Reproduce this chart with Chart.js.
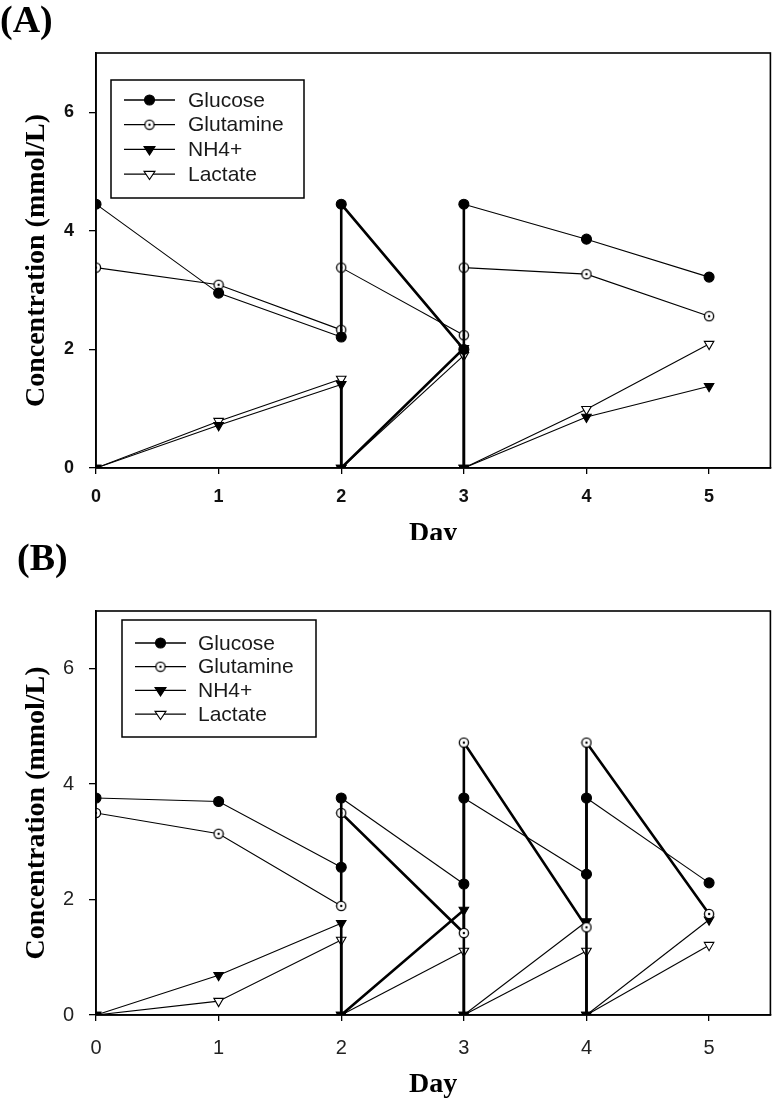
<!DOCTYPE html>
<html><head><meta charset="utf-8">
<script src="https://cdn.jsdelivr.net/npm/chart.js@4/dist/chart.umd.min.js"></script>
<style>
html,body{margin:0;padding:0;background:#fff;}
body{width:777px;height:1102px;position:relative;overflow:hidden;}
#pa{position:absolute;left:0;top:0;width:777px;height:540px;overflow:hidden;}
#pb{position:absolute;left:0;top:540px;width:777px;height:562px;background:#fff;}
.lbl{position:absolute;font-family:"Liberation Serif","Times New Roman",serif;font-weight:bold;font-size:38px;line-height:38px;color:#000;}
canvas{position:absolute;left:0;top:0;}
</style></head><body>
<div id="pa"><canvas id="ca" width="777" height="551"></canvas><div class="lbl" style="left:0;top:0">(A)</div></div>
<div id="pb"><canvas id="cb" width="777" height="562"></canvas><div class="lbl" style="left:17px;top:-2px">(B)</div></div>
<script>
// ---------- data ----------
const seriesNames = ['Glucose', 'Glutamine', 'NH4+', 'Lactate'];
const xTickValues = [0, 1, 2, 3, 4, 5];
const yTickValues = [0, 2, 4, 6];
const xAxisTitle = 'Day';
const yAxisTitle = 'Concentration (mmol/L)';

// Panel A (feeding at day 2 and day 3: repeated day = value before / after feed)
const daysA      = [0, 1, 2, 2, 3, 3, 4, 5];
const glucoseA   = [4.45, 2.95, 2.21, 4.45, 2.00, 4.45, 3.86, 3.22];
const glutamineA = [3.38, 3.09, 2.33, 3.38, 2.24, 3.38, 3.27, 2.56];
const nh4A       = [0, 0.72, 1.41, 0, 2.02, 0, 0.86, 1.38];
const lactateA   = [0, 0.79, 1.50, 0, 1.90, 0, 0.99, 2.09];

// Panel B (feeding at day 2, 3 and 4)
const daysB      = [0, 1, 2, 2, 3, 3, 4, 4, 5];
const glucoseB   = [3.76, 3.70, 2.56, 3.76, 2.27, 3.76, 2.44, 3.76, 2.29];
const glutamineB = [3.50, 3.14, 1.89, 3.50, 1.42, 4.72, 1.52, 4.72, 1.75];
const nh4B       = [0, 0.69, 1.59, 0, 1.82, 0, 1.62, 0, 1.65];
const lactateB   = [0, 0.24, 1.30, 0, 1.11, 0, 1.11, 0, 1.21];

// segments (by start index) drawn with a heavy line
const heavyA = {'Glucose': [3], 'NH4+': [3]};
const heavyB = {'Glutamine': [3, 5, 7], 'NH4+': [3]};

// ---------- styles ----------
function makeOpenDot() {
  const c = document.createElement('canvas');
  c.width = 12; c.height = 12;
  const g = c.getContext('2d');
  g.beginPath(); g.arc(6, 6, 4.6, 0, Math.PI * 2);
  g.fillStyle = '#fff'; g.fill();
  g.lineWidth = 1.3; g.strokeStyle = '#000'; g.stroke();
  g.beginPath(); g.arc(6, 6, 1.2, 0, Math.PI * 2);
  g.fillStyle = '#000'; g.fill();
  return c;
}
const openDot = makeOpenDot();
const markerStyles = {
  'Glucose':   {pointStyle: 'circle', pointRadius: 5, pointBackgroundColor: '#000', pointRotation: 0},
  'Glutamine': {pointStyle: openDot, pointRadius: 5, pointBackgroundColor: '#fff', pointRotation: 0},
  'NH4+':      {pointStyle: 'triangle', pointRadius: 5.5, pointBackgroundColor: '#000', pointRotation: 180},
  'Lactate':   {pointStyle: 'triangle', pointRadius: 5.5, pointBackgroundColor: '#fff', pointRotation: 180}
};

function buildDatasets(days, lists, heavy) {
  return seriesNames.map((name, k) => {
    const heavyIdx = heavy[name] || [];
    return Object.assign({
      label: name,
      data: days.map((d, i) => ({x: d, y: lists[k][i]})),
      borderColor: '#000',
      borderWidth: 1.1,
      pointBorderColor: '#000',
      pointBorderWidth: 1.1,
      tension: 0,
      segment: {
        borderWidth: ctx => (ctx.p0.parsed.x === ctx.p1.parsed.x || heavyIdx.includes(ctx.p0DataIndex)) ? 2.6 : 1.1
      }
    }, markerStyles[name]);
  });
}

function drawMarker(ctx, st, x, y) {
  ctx.save();
  if (st.pointStyle instanceof HTMLCanvasElement) {
    ctx.drawImage(st.pointStyle, x - st.pointStyle.width / 2, y - st.pointStyle.height / 2);
  } else if (st.pointStyle === 'circle') {
    ctx.beginPath(); ctx.arc(x, y, st.pointRadius, 0, Math.PI * 2);
    ctx.fillStyle = st.pointBackgroundColor; ctx.fill();
    ctx.lineWidth = 1.1; ctx.strokeStyle = '#000'; ctx.stroke();
  } else {
    const r = st.pointRadius;
    ctx.beginPath();
    ctx.moveTo(x - r * 0.866 * 1.15, y - r * 0.5);
    ctx.lineTo(x + r * 0.866 * 1.15, y - r * 0.5);
    ctx.lineTo(x, y + r);
    ctx.closePath();
    ctx.fillStyle = st.pointBackgroundColor; ctx.fill();
    ctx.lineWidth = 1.1; ctx.strokeStyle = '#000'; ctx.stroke();
  }
  ctx.restore();
}

const boxLegend = {
  id: 'boxLegend',
  afterDatasetsDraw(chart, args, o) {
    const {ctx, chartArea: a} = chart;
    const x0 = a.left + o.dx, y0 = a.top + o.dy;
    ctx.save();
    ctx.fillStyle = '#fff';
    ctx.fillRect(x0, y0, o.w, o.h);
    ctx.lineWidth = 1.5; ctx.strokeStyle = '#000';
    ctx.strokeRect(x0, y0, o.w, o.h);
    chart.data.datasets.forEach((ds, i) => {
      const y = y0 + o.first + i * o.step;
      ctx.beginPath();
      ctx.moveTo(x0 + o.lx1, y); ctx.lineTo(x0 + o.lx2, y);
      ctx.lineWidth = 1.3; ctx.strokeStyle = '#000'; ctx.stroke();
      drawMarker(ctx, markerStyles[ds.label], x0 + (o.lx1 + o.lx2) / 2, y);
      ctx.fillStyle = '#1a1a1a';
      ctx.font = o.font;
      ctx.textBaseline = 'middle';
      ctx.textAlign = 'left';
      ctx.fillText(ds.label, x0 + o.tx, y + 1);
    });
    ctx.restore();
  }
};

const frame = {
  id: 'frame',
  afterDraw(chart) {
    const {ctx, chartArea: a} = chart;
    ctx.save();
    ctx.lineWidth = 1.6; ctx.strokeStyle = '#000';
    ctx.strokeRect(a.left, a.top, a.right - a.left, a.bottom - a.top);
    ctx.restore();
  }
};

function makeChart(id, days, lists, heavy, cfg) {
  new Chart(document.getElementById(id), {
    type: 'line',
    data: {datasets: buildDatasets(days, lists, heavy)},
    plugins: [boxLegend, frame],
    options: {
      responsive: false,
      animation: false,
      devicePixelRatio: 1,
      layout: {padding: {left: 0, top: cfg.top, right: cfg.right, bottom: 0}},
      plugins: {
        legend: {display: false},
        title: {display: false},
        tooltip: {enabled: false},
        boxLegend: cfg.legend
      },
      scales: {
        x: {
          type: 'linear', min: 0, max: 5.5,
          afterBuildTicks: s => { s.ticks = xTickValues.map(v => ({value: v})); },
          afterFit: s => { s.height = cfg.xh; },
          grid: {drawOnChartArea: false, drawTicks: true, tickLength: 6, color: '#000', lineWidth: 1.3},
          border: {display: true, color: '#000', width: 1.6},
          ticks: {color: cfg.tickColor, font: cfg.tickFont, padding: cfg.xpad, maxRotation: 0},
          title: {display: true, text: xAxisTitle, color: '#000',
                  font: {family: '"Liberation Serif", "Times New Roman", serif', size: 28, weight: 'bold'},
                  padding: {top: 0, bottom: 0}}
        },
        y: {
          type: 'linear', min: 0, max: 7,
          afterBuildTicks: s => { s.ticks = yTickValues.map(v => ({value: v})); },
          afterFit: s => { s.width = 96; },
          grid: {drawOnChartArea: false, drawTicks: true, tickLength: 7, color: '#000', lineWidth: 1.3},
          border: {display: true, color: '#000', width: 1.6},
          ticks: {color: cfg.tickColor, font: cfg.tickFont, padding: cfg.ypad},
          title: {display: true, text: yAxisTitle, color: '#000',
                  font: {family: '"Liberation Serif", "Times New Roman", serif', size: 28, weight: 'bold'},
                  padding: {top: 20, bottom: 0}}
        }
      }
    }
  });
}

makeChart('ca', daysA, [glucoseA, glutamineA, nh4A, lactateA], heavyA, {
  top: 53, right: 3, xh: 83, xpad: 12, ypad: 15, tickColor: '#111',
  tickFont: {family: '"Liberation Sans", Arial, sans-serif', size: 18, weight: 'bold'},
  legend: {dx: 15, dy: 27, w: 193, h: 118, first: 20, step: 24.7, lx1: 13, lx2: 64, tx: 77,
           font: '21px "Liberation Sans", Arial, sans-serif'}
});
makeChart('cb', daysB, [glucoseB, glutamineB, nh4B, lactateB], heavyB, {
  top: 71, right: 4, xh: 87, xpad: 15, ypad: 15, tickColor: '#222',
  tickFont: {family: '"Liberation Sans", Arial, sans-serif', size: 20, weight: 'normal'},
  legend: {dx: 26, dy: 9, w: 194, h: 117, first: 23, step: 23.7, lx1: 13, lx2: 64, tx: 76,
           font: '21px "Liberation Sans", Arial, sans-serif'}
});
</script>
</body></html>
